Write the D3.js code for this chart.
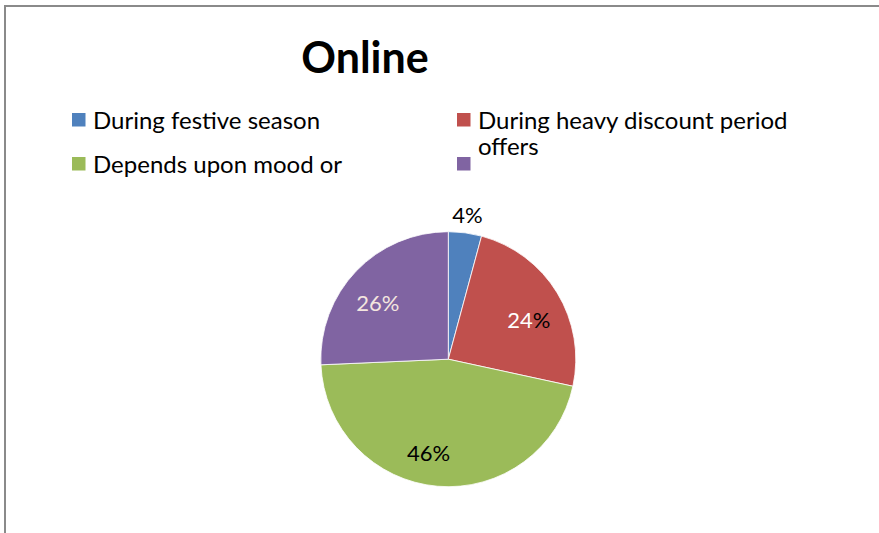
<!DOCTYPE html>
<html>
<head>
<meta charset="utf-8">
<script src="https://cdn.jsdelivr.net/npm/d3@7"></script>
<style>
  html, body { margin: 0; padding: 0; background: #fff; }
  svg { display: block; }
</style>
</head>
<body>
<svg id="chart" width="879" height="533"></svg>
<script>
// ---- data ----
const title = "Online";
const categories = [
  "During festive season",
  "During heavy discount period offers",
  "Depends upon mood or",
  ""
];
const values = [4.2, 24.2, 45.9, 25.7];
const colors = ["#4f81bd", "#c0504d", "#9bbb59", "#8064a2"];
const labelFill = ["#000000", "#ffffff", "#000000", "#f4e6df"];

// ---- layout ----
const W = 879, H = 533;
const FONT = "Lato, 'Open Sans', 'DejaVu Sans', sans-serif";
const svg = d3.select("#chart");

// frame (chart area border; right/bottom run off the picture)
svg.append("path")
  .attr("d", `M5,${H} V6 H${W}`)
  .attr("fill", "none")
  .attr("stroke", "#8a8a8a")
  .attr("stroke-width", 2);

// title
svg.append("text")
  .attr("x", 365).attr("y", 73)
  .attr("text-anchor", "middle")
  .attr("font-family", FONT)
  .attr("font-weight", "bold")
  .attr("font-size", 43)
  .attr("fill", "#000")
  .text(title);

// legend (two columns, clipped at bottom as in the original)
svg.append("clipPath").attr("id", "legclip")
  .append("rect").attr("x", 0).attr("y", 0).attr("width", W).attr("height", 177.5);

const legend = svg.append("g").attr("clip-path", "url(#legclip)");
const colX = d3.scalePoint().domain([0, 1]).range([72, 457]);
const rowY = d3.scalePoint().domain([0, 1]).range([113, 157]);
const maxTextW = 340;
const legFont = 24;

categories.forEach((name, i) => {
  const col = i % 2, row = Math.floor(i / 2);
  const g = legend.append("g")
    .attr("transform", `translate(${colX(col)},${rowY(row)})`);
  g.append("rect")
    .attr("width", 13.5).attr("height", 13.5)
    .attr("fill", colors[i]);
  const t = g.append("text")
    .attr("x", 21).attr("y", 15.5)
    .attr("font-family", FONT)
    .attr("font-size", legFont)
    .attr("fill", "#000");
  // simple word wrap
  const words = name.split(/\s+/).filter(w => w.length);
  let line = [];
  let ts = t.append("tspan").attr("x", 21).attr("dy", 0);
  words.forEach(w => {
    line.push(w);
    ts.text(line.join(" "));
    if (ts.node().getComputedTextLength() > maxTextW && line.length > 1) {
      line.pop();
      ts.text(line.join(" "));
      line = [w];
      ts = t.append("tspan").attr("x", 21).attr("dy", 26.5).text(w);
    }
  });
});

// pie
const cx = 448.3, cy = 359.2, R = 127.5;
const pie = d3.pie().sort(null).value(d => d)(values);
const arc = d3.arc().innerRadius(0).outerRadius(R);
const g = svg.append("g").attr("transform", `translate(${cx},${cy})`);

g.selectAll("path.slice").data(pie).enter().append("path")
  .attr("class", "slice")
  .attr("d", arc)
  .attr("fill", (d, i) => colors[i])
  .attr("stroke", "#ffffff")
  .attr("stroke-width", 0.8)
  .attr("stroke-linejoin", "round");

// data labels: best-fit style - small slices outside, others inside
const insideArc = d3.arc().innerRadius(92).outerRadius(92);
const outsideArc = d3.arc().innerRadius(145).outerRadius(145);
// small per-label nudges mimicking the spreadsheet's best-fit placement
const nudge = [[0, 0], [2, 9], [-12, 2], [-4, 7]];

const fmt = d => Math.round(d) + "%";
pie.forEach((d, i) => {
  const small = (d.endAngle - d.startAngle) < 0.4;
  const c = (small ? outsideArc : insideArc).centroid(d);
  const x = c[0] + nudge[i][0], y = c[1] + nudge[i][1];
  const t = g.append("text")
    .attr("x", x).attr("y", y)
    .attr("dy", "0.36em")
    .attr("text-anchor", "middle")
    .attr("font-family", FONT)
    .attr("font-size", 22)
    .attr("fill", labelFill[i]);
  const s = fmt(values[i]);
  if (i === 1) {
    // the original renders the percent sign of this label in black
    t.append("tspan").text(s.slice(0, -1));
    t.append("tspan").attr("fill", "#000").text("%");
  } else {
    t.text(s);
  }
});
</script>
</body>
</html>
